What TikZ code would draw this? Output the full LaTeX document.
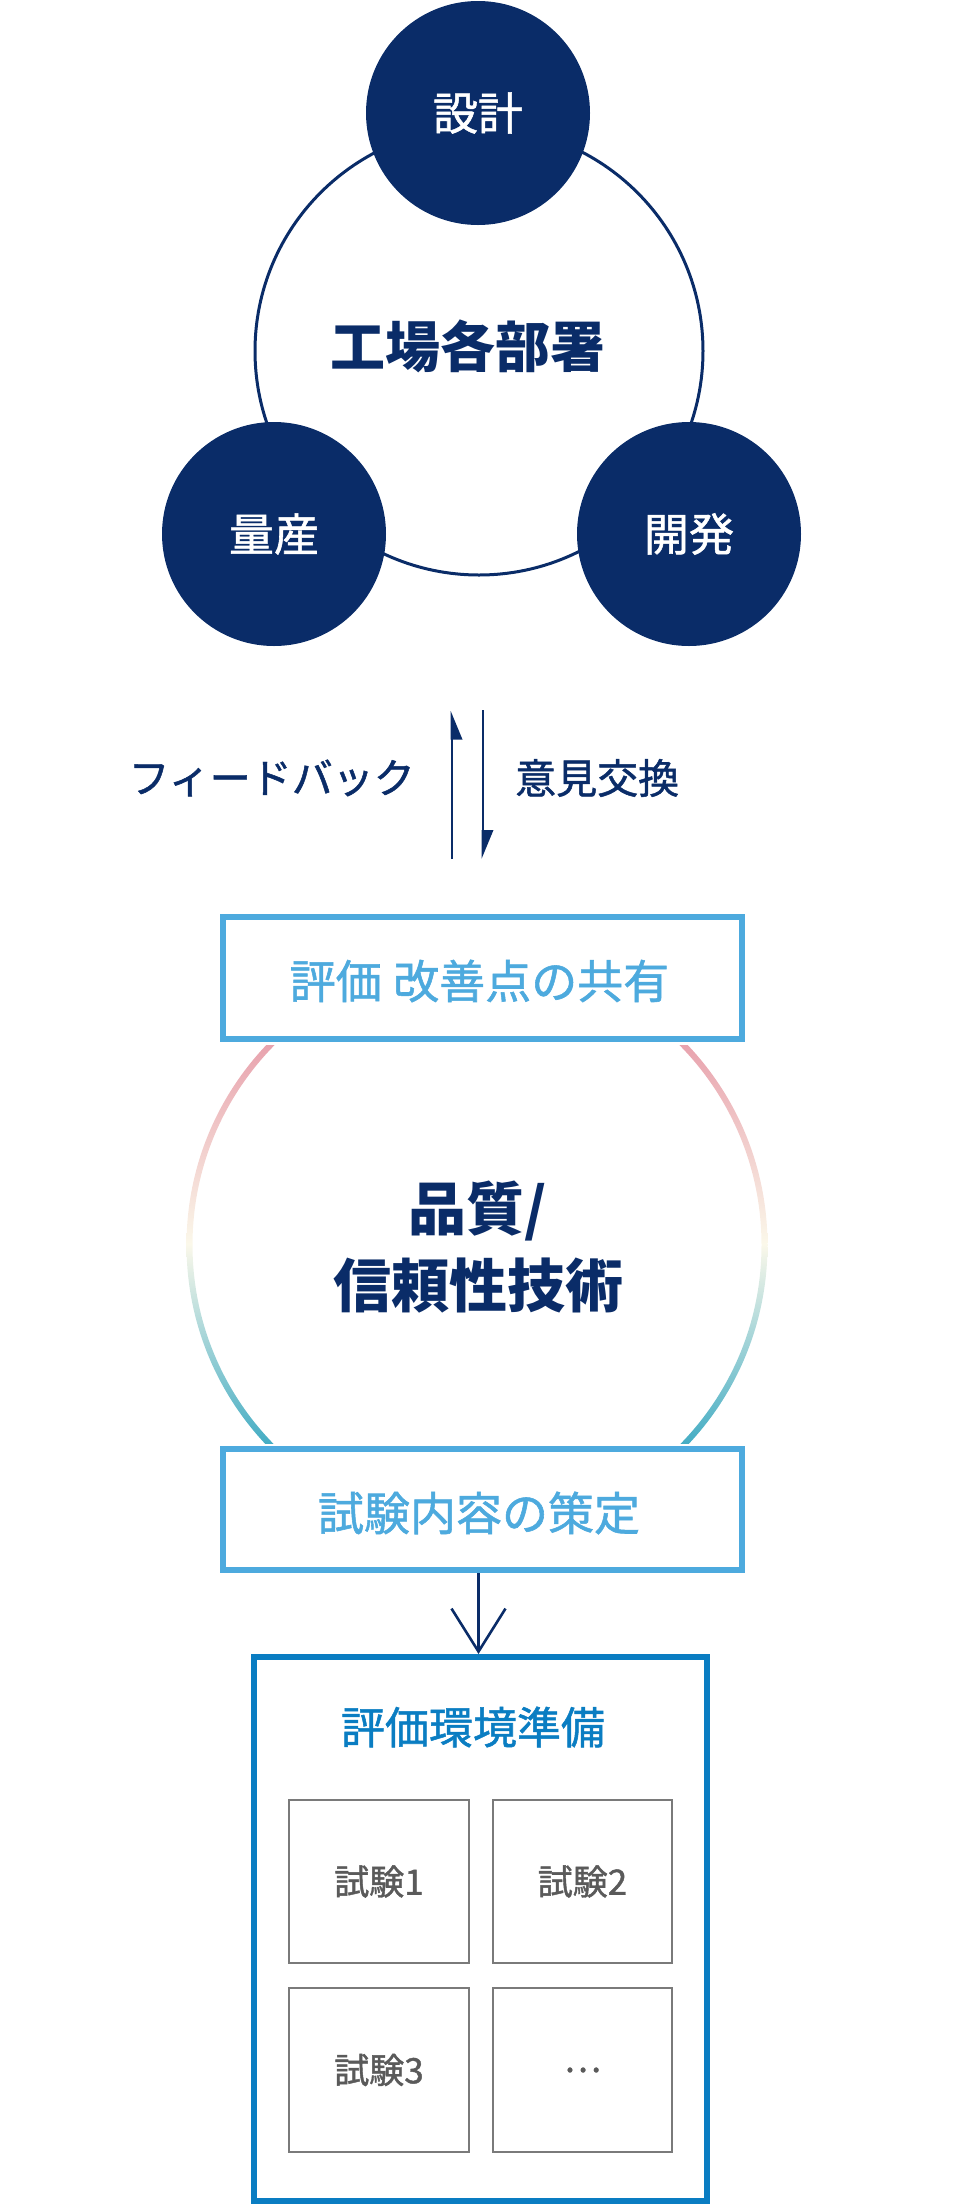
\documentclass[tikz,border=0pt]{standalone}
\usepackage{fontspec}
\setmainfont{Noto Sans CJK JP}
\newfontfamily\jpmed{Noto Sans CJK JP}[FakeBold=1.2]
\usetikzlibrary{arrows.meta}
\definecolor{navy}{HTML}{0A2C68}
\definecolor{lblue}{HTML}{4DAADE}
\definecolor{dblue}{HTML}{0A7DC2}
\definecolor{gborder}{HTML}{7A7A7A}
\definecolor{gtext}{HTML}{5A5A5A}
\definecolor{rpink}{HTML}{E8A3AE}
\definecolor{rcream}{HTML}{FBF8EA}
\definecolor{rteal}{HTML}{45ADC4}
\tikzset{
  dept/.style={circle, fill=navy, inner sep=0pt, minimum size=224pt, text=white,
    font=\jpmed\fontsize{45}{54}\selectfont},
  lbox/.style={draw=lblue, line width=6pt, fill=white, inner sep=0pt,
    minimum width=519pt},
  lboxtext/.style={text=lblue, inner sep=0pt, font=\jpmed\fontsize{46}{54}\selectfont},
  testbox/.style={draw=gborder, line width=2pt, fill=white, inner sep=0pt,
    text=gtext, font=\jpmed\fontsize{35}{42}\selectfont},
  lbl/.style={text=navy, inner sep=0pt, font=\jpmed\fontsize{41}{48}\selectfont},
}
\begin{document}
\begin{tikzpicture}[x=1pt,y=-1pt]
\useasboundingbox (0,0) rectangle (960,2204);
% ring of departments
\node[circle, draw=navy, line width=3pt, minimum size=448pt, inner sep=0pt] (factory) at (479,351) {};
\node[text=navy, font=\bfseries\fontsize{55}{64}\selectfont] (factoryt) at (468,346) {工場各部署};
\node[dept] (design) at (478,113) {設計};
\node[dept] (mass) at (274,534) {量産};
\node[dept] (dev) at (689,534) {開発};
% feedback arrows
\coordinate (upbot) at (452,859);
\coordinate (uptop) at (452,725);
\coordinate (dntop) at (483,710);
\coordinate (dnbot) at (483,845);
\draw[navy, line width=2.6pt] (upbot) -- (uptop);
\fill[navy] (450.7,711) -- (450.7,739.5) -- (462.5,739.5) -- cycle;
\draw[navy, line width=2.6pt] (dntop) -- (dnbot);
\fill[navy] (481.7,830) -- (493.5,830) -- (481.7,858.5) -- cycle;
\node[lbl, anchor=east] (fb) at (415,778) {フィードバック};
\node[lbl, anchor=west] (ex) at (515,778) {意見交換};
% gradient ring
\begin{scope}[even odd rule]
  \clip (477,1245) circle (290.5pt) (477,1245) circle (284.5pt);
  \shade[top color=rpink, bottom color=rteal, middle color=rcream]
    (150,1045) rectangle (800,1443);
\end{scope}
\node[text=navy, align=center, font=\bfseries\fontsize{58}{77}\selectfont] (qual) at (478,1247) {品質/\\信頼性技術};
% boxes
\node[lbox, minimum height=122pt] (share) at (482.5,978) {};
\node[lboxtext] (sharet) at (479.5,981) {評価\hspace{0.25em}改善点の共有};
\node[lbox, minimum height=121pt] (plan) at (482.5,1509.5) {};
\node[lboxtext] (plant) at (479,1513) {試験内容の策定};
\node[draw=dblue, line width=6pt, inner sep=0pt, minimum width=453pt,
  minimum height=544pt] (env) at (480,1929) {};
\node[text=dblue, font=\jpmed\fontsize{44}{52}\selectfont] (envt) at (473,1727) {評価環境準備};
\node[testbox, minimum width=180pt, minimum height=163pt] (t1) at (379,1881.5) {試験1};
\node[testbox, minimum width=179pt, minimum height=163pt] (t2) at (582.5,1881.5) {試験2};
\node[testbox, minimum width=180pt, minimum height=164pt] (t3) at (379,2070) {試験3};
\node[testbox, minimum width=179pt, minimum height=164pt] (t4) at (582.5,2070) {…};
\draw[navy, line width=2.6pt, -{Straight Barb[length=43pt, width=54pt, line width=2.6pt]}]
  ([xshift=-1.5pt]env.north |- plan.south) -- ([xshift=-1.5pt]env.north);
\end{tikzpicture}
\end{document}
